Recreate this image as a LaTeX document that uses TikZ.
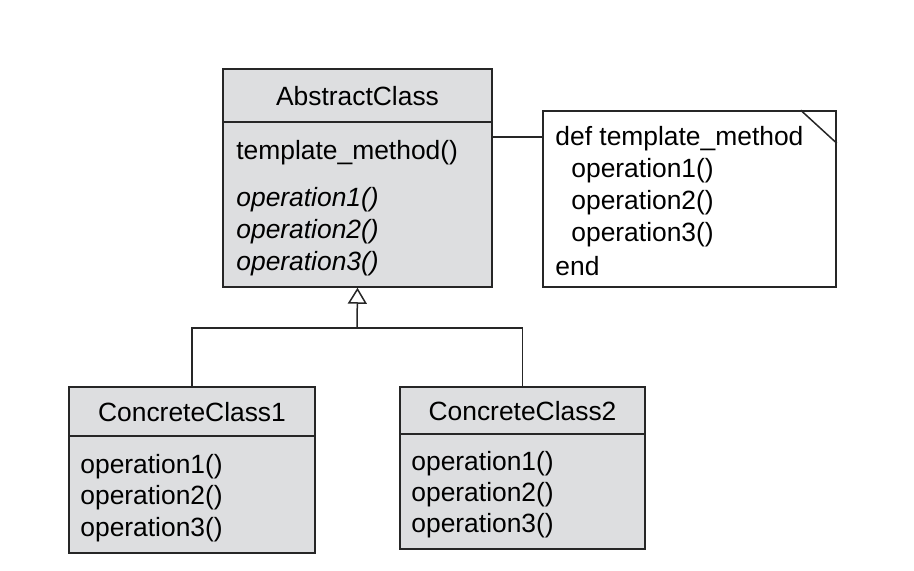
\documentclass[tikz,border=0pt]{standalone}
\usepackage{fontspec}
\setmainfont{Liberation Sans}
\usetikzlibrary{arrows.meta}
\usetikzlibrary{positioning}
\usetikzlibrary{fit}

\definecolor{boxgray}{RGB}{221,222,224}
\tikzset{
  uml/.style={draw=black!85, line width=0.75pt, fill=boxgray, inner sep=0pt},
  notebox/.style={draw=black!85, line width=0.75pt, fill=white, inner sep=0pt},
  link/.style={draw=black!85, line width=0.75pt},
  op/.style={anchor=west, inner sep=0pt, yshift=-1.5pt},
}

\begin{document}
\begin{tikzpicture}[x=0.5pt, y=-0.5pt, font=\fontsize{13.2}{15}\selectfont]
\useasboundingbox (0,0) rectangle (914,571);

% abstract class
\node[uml, fit={(223,69) (492,122)}] (abshead) {};
\node[yshift=-0.5pt] at (abshead) {AbstractClass};
\node[uml, fit={(223,122) (492,287)}] (absbody) {};
\node[op] (tm) at (236,150) {template\_method()};
\foreach \y/\n in {197/1, 229/2, 261/3}
  \node[op, font=\fontsize{13.2}{15}\selectfont\itshape] (absop\n) at (236,\y) {operation\n()};

% note
\node[notebox, fit={(543,111) (836,287)}] (note) {};
\draw[link] ([xshift=-18pt]note.north east) -- ([yshift=-16.5pt]note.north east);
\node[op] (ndef) at (555,136) {def template\_method};
\foreach \y/\n in {168/1, 200/2, 232/3}
  \node[op] (nop\n) at (571,\y) {operation\n()};
\node[op] (nend) at (555,263) {end};
\coordinate (notelink) at (492,137);
\draw[link] (absbody.east |- notelink) -- (note.west |- notelink);

% concrete classes
\node[uml, fit={(69,387) (315,436)}] (cc1head) {};
\node[yshift=-0.5pt] at (cc1head) {ConcreteClass1};
\node[uml, fit={(69,436) (315,553)}] (cc1body) {};
\foreach \y/\n in {464/1, 495/2, 527/3}
  \node[op] (cc1op\n) at (80,\y) {operation\n()};

\node[uml, fit={(400,387) (645,434)}] (cc2head) {};
\node[yshift=-0.5pt] at (cc2head) {ConcreteClass2};
\node[uml, fit={(400,434) (645,549)}] (cc2body) {};
\foreach \y/\n in {461/1, 492/2, 523/3}
  \node[op] (cc2op\n) at (411,\y) {operation\n()};

% generalization
\coordinate (branch) at (357,328);
\draw[link, -{Triangle[open, length=8pt, width=9.5pt]}] (branch) -- (absbody.south);
\draw[link] (cc1head.north) |- (branch) -| (cc2head.north);

\end{tikzpicture}
\end{document}
